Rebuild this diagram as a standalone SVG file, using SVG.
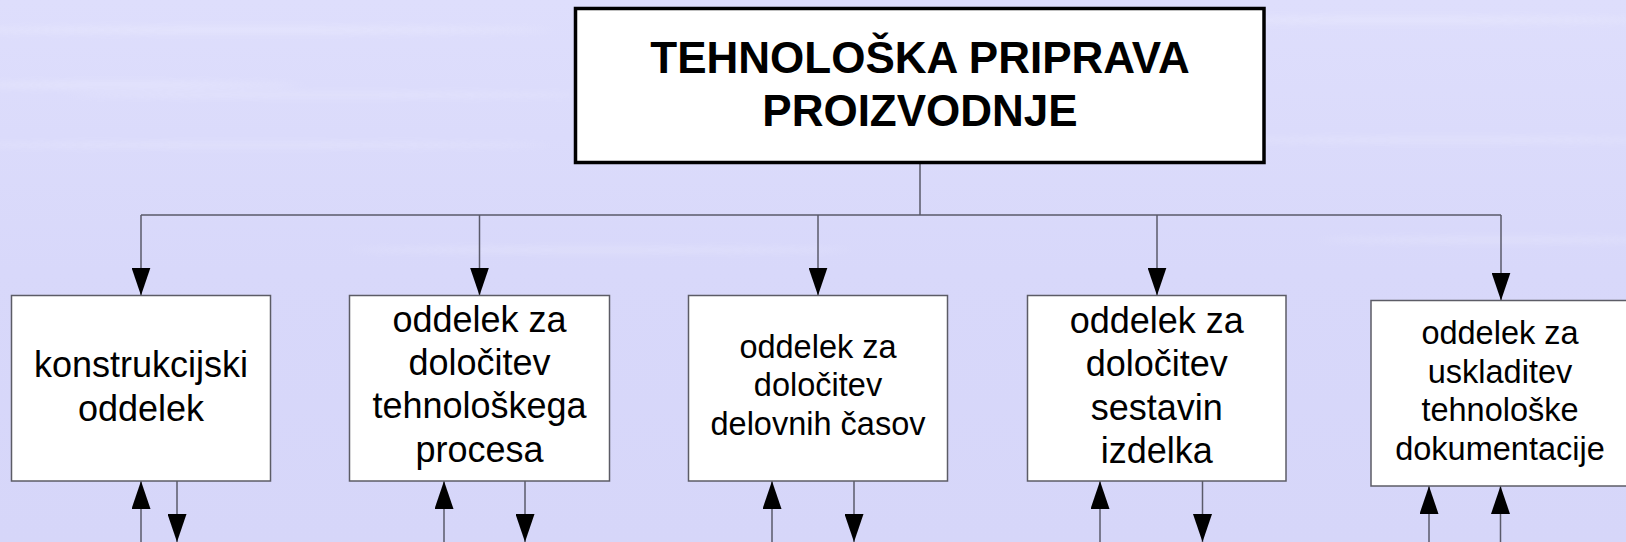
<svg xmlns="http://www.w3.org/2000/svg" width="1626" height="542" viewBox="0 0 1626 542">
  <defs>
    <linearGradient id="bg" x1="0" y1="0" x2="0" y2="1">
      <stop offset="0" stop-color="#dedefc"/>
      <stop offset="0.5" stop-color="#d8d8fa"/>
      <stop offset="1" stop-color="#d6d6f9"/>
    </linearGradient>
    <filter id="blur" x="-10%" y="-200%" width="120%" height="500%">
      <feGaussianBlur stdDeviation="8 3"/>
    </filter>
    <marker id="ah" viewBox="0 0 28 19" refX="28" refY="9.5" markerWidth="28" markerHeight="19" markerUnits="userSpaceOnUse" orient="auto">
      <path d="M0,0 L28,9.5 L0,19 z" fill="#000"/>
    </marker>
    <style>
      .box { fill: #ffffff; stroke: #5c5c66; stroke-width: 1.5; }
      .title { fill: #ffffff; stroke: #000000; stroke-width: 3.5; }
      .t { font-family: "Liberation Sans", Arial, sans-serif; fill: #000; text-anchor: middle; }
      .tb { font-size: 36px; }
      .ts { font-size: 32.5px; }
      .th { font-size: 44px; font-weight: bold; }
      .c { fill: none; stroke: #5a5a6a; stroke-width: 1.5; }
      .a { marker-end: url(#ah); }
    </style>
  </defs>

  <rect x="0" y="0" width="1626" height="542" fill="url(#bg)"/>
  <g opacity="0.18" filter="url(#blur)" fill="#ffffff">
    <ellipse cx="250" cy="30" rx="300" ry="4"/>
    <ellipse cx="120" cy="85" rx="180" ry="4"/>
    <ellipse cx="330" cy="95" rx="260" ry="3"/>
    <ellipse cx="250" cy="145" rx="300" ry="3"/>
    <ellipse cx="1400" cy="20" rx="260" ry="4"/>
    <ellipse cx="1450" cy="140" rx="220" ry="3"/>
    <ellipse cx="1500" cy="240" rx="180" ry="3"/>
    <ellipse cx="600" cy="250" rx="250" ry="3"/>
  </g>

  <g id="connectors">
    <path class="c" d="M920,164 V215 M141,215 H1501"/>
    <path class="c a" d="M141,215 V295.5"/>
    <path class="c a" d="M479.5,215 V295.5"/>
    <path class="c a" d="M818,215 V295.5"/>
    <path class="c a" d="M1157,215 V295.5"/>
    <path class="c a" d="M1501,215 V300.5"/>

    <path class="c a" d="M141,542 V481"/>
    <path class="c a" d="M177,481 V542"/>
    <path class="c a" d="M444,542 V481"/>
    <path class="c a" d="M525,481 V542"/>
    <path class="c a" d="M772,542 V481"/>
    <path class="c a" d="M854,481 V542"/>
    <path class="c a" d="M1100,542 V481"/>
    <path class="c a" d="M1202.5,481 V542"/>
    <path class="c a" d="M1429,542 V486"/>
    <path class="c a" d="M1500.5,542 V486"/>
  </g>

  <g id="title">
    <rect class="title" x="575.5" y="8.5" width="688.5" height="154"/>
    <text class="t th" x="920" y="72.8">TEHNOLOŠKA PRIPRAVA</text>
    <text class="t th" x="920" y="125.5">PROIZVODNJE</text>
  </g>

  <g id="n1">
    <rect class="box" x="11.5" y="295.5" width="259" height="185.5"/>
    <text class="t tb" x="141" y="376.7">konstrukcijski</text>
    <text class="t tb" x="141" y="420.5">oddelek</text>
  </g>

  <g id="n2">
    <rect class="box" x="349.5" y="295.5" width="260" height="185.5"/>
    <text class="t tb" x="479.5" y="331.7">oddelek za</text>
    <text class="t tb" x="479.5" y="375">določitev</text>
    <text class="t tb" x="479.5" y="418.3">tehnološkega</text>
    <text class="t tb" x="479.5" y="461.7">procesa</text>
  </g>

  <g id="n3">
    <rect class="box" x="688.5" y="295.5" width="259" height="185.5"/>
    <text class="t ts" x="818" y="357.7">oddelek za</text>
    <text class="t ts" x="818" y="396.3">določitev</text>
    <text class="t ts" x="818" y="435">delovnih časov</text>
  </g>

  <g id="n4">
    <rect class="box" x="1027.5" y="295.5" width="258.5" height="185.5"/>
    <text class="t tb" x="1156.7" y="333">oddelek za</text>
    <text class="t tb" x="1156.7" y="376">določitev</text>
    <text class="t tb" x="1156.7" y="419.5">sestavin</text>
    <text class="t tb" x="1156.7" y="462.5">izdelka</text>
  </g>

  <g id="n5">
    <rect class="box" x="1371" y="300.5" width="259" height="185.5"/>
    <text class="t ts" x="1500" y="344.3">oddelek za</text>
    <text class="t ts" x="1500" y="382.7">uskladitev</text>
    <text class="t ts" x="1500" y="421">tehnološke</text>
    <text class="t ts" x="1500" y="459.5">dokumentacije</text>
  </g>
</svg>
